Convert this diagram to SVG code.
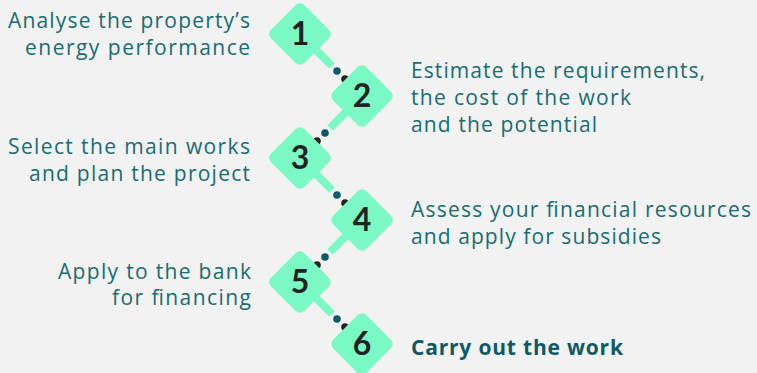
<svg xmlns="http://www.w3.org/2000/svg" width="757" height="373" viewBox="0 0 757 373">
<style>
.bg{fill:#f2f2f2}
.dia{fill:#7bf9c4}
.num{font-family:Lato,"Open Sans",sans-serif;font-weight:700;font-size:32px;fill:#222222;text-anchor:middle}
.lbl{font-family:"Open Sans",Lato,sans-serif;font-size:21px;fill:#176c76}
.l{text-anchor:end}
.b{font-weight:700;fill:#0d5a66}
.ln{stroke:#7bf9c4;stroke-width:8;fill:none}
.dt{fill:#0d5b6b}
.dk{fill:#222222}
</style>
<defs>
<rect id="d" x="-23.5" y="-23.5" width="47" height="47" rx="6" transform="rotate(45)"/>
</defs>
<rect class="bg" x="0" y="0" width="757" height="373"/>
<g id="connectors">
<line class="ln" x1="300" y1="34" x2="332" y2="66"/>
<circle class="dt" cx="337" cy="71" r="3.8"/><circle class="dk" cx="345" cy="79" r="3.8"/>
<line class="ln" x1="362" y1="96" x2="330" y2="128"/>
<circle class="dt" cx="325" cy="133" r="3.8"/><circle class="dk" cx="317" cy="141" r="3.8"/>
<line class="ln" x1="300" y1="158" x2="332" y2="190"/>
<circle class="dt" cx="337" cy="195" r="3.8"/><circle class="dk" cx="345" cy="203" r="3.8"/>
<line class="ln" x1="362" y1="220" x2="330" y2="252"/>
<circle class="dt" cx="325" cy="257" r="3.8"/><circle class="dk" cx="317" cy="265" r="3.8"/>
<line class="ln" x1="300" y1="282" x2="332" y2="314"/>
<circle class="dt" cx="337" cy="319" r="3.8"/><circle class="dk" cx="345" cy="327" r="3.8"/>
</g>
<g id="step1"><use href="#d" class="dia" transform="translate(300,34)"/><text class="num" x="300" y="45">1</text>
<text class="lbl l" x="250" y="28" textLength="242" lengthAdjust="spacing">Analyse the property’s</text><text class="lbl l" x="250" y="55" textLength="225" lengthAdjust="spacing">energy performance</text></g>
<g id="step2"><use href="#d" class="dia" transform="translate(362,96)"/><text class="num" x="362" y="107">2</text>
<text class="lbl" x="411" y="78" textLength="294" lengthAdjust="spacing">Estimate the requirements,</text><text class="lbl" x="411" y="105" textLength="220" lengthAdjust="spacing">the cost of the work</text><text class="lbl" x="411" y="132" textLength="186" lengthAdjust="spacing">and the potential</text></g>
<g id="step3"><use href="#d" class="dia" transform="translate(300,158)"/><text class="num" x="300" y="169">3</text>
<text class="lbl l" x="250" y="154" textLength="242" lengthAdjust="spacing">Select the main works</text><text class="lbl l" x="250" y="181" textLength="221" lengthAdjust="spacing">and plan the project</text></g>
<g id="step4"><use href="#d" class="dia" transform="translate(362,220)"/><text class="num" x="362" y="231">4</text>
<text class="lbl" x="411" y="217" textLength="340" lengthAdjust="spacing">Assess your financial resources</text><text class="lbl" x="411" y="244" textLength="250" lengthAdjust="spacing">and apply for subsidies</text></g>
<g id="step5"><use href="#d" class="dia" transform="translate(300,282)"/><text class="num" x="300" y="293">5</text>
<text class="lbl l" x="251" y="279" textLength="193" lengthAdjust="spacing">Apply to the bank</text><text class="lbl l" x="251" y="305" textLength="139" lengthAdjust="spacing">for financing</text></g>
<g id="step6"><use href="#d" class="dia" transform="translate(362,344)"/><text class="num" x="362" y="355">6</text>
<text class="lbl b" x="411" y="355" font-size="22" textLength="212" lengthAdjust="spacing">Carry out the work</text></g>
</svg>
